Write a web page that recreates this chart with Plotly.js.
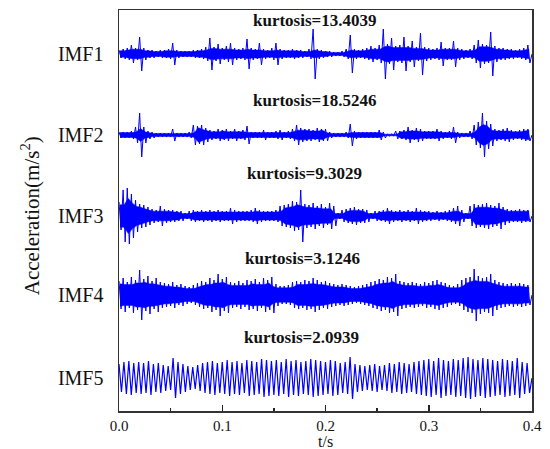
<!DOCTYPE html>
<html>
<head>
<meta charset="utf-8">
<script src="https://cdn.plot.ly/plotly-3.0.1.min.js"></script>
<style>html,body{margin:0;padding:0;background:#fff;}#chart{width:550px;height:449px;}</style>
</head>
<body>
<div id="chart"></div>
<script>
// IMF names and their kurtosis values
var imfNames = ["IMF1", "IMF2", "IMF3", "IMF4", "IMF5"];
var kurtosis = [13.4039, 18.5246, 9.3029, 3.1246, 2.0939];

// amplitude envelope readings (one swing each), along 0..0.4 s
var imf1Amp = [4,5,6,9,6,17,6,4,4,3,4,4,5,11,4,3,3,3,4,4,
               5,7,16,7,10,6,8,11,6,5,6,15,6,5,11,5,4,6,11,5,
               4,4,5,4,4,3,5,25,5,4,3,3,2,2,3,5,19,5,4,5,
               6,8,6,9,25,10,16,8,9,17,8,13,7,21,7,6,5,6,12,6,
               6,13,6,5,4,5,9,14,10,9,22,8,6,6,5,5,4,5,6,9];
var imf2Amp = [3,3,3,4,8,22,8,4,3,2,2,2,2,6,2,2,2,3,10,9,
               10,7,5,4,6,5,6,4,6,4,5,9,3,3,3,5,3,3,4,5,
               3,4,6,10,7,6,6,5,7,6,6,3,2,2,2,3,11,4,3,3,
               3,3,3,5,3,1,1,4,4,5,8,5,7,6,4,4,4,6,4,3,
               4,8,3,2,2,4,10,13,22,14,11,6,5,6,7,5,4,5,6,6];
var imf3Amp = [14,26,28,22,16,12,11,9,7,6,10,7,6,6,5,5,3,5,6,5,
               6,5,6,5,6,5,5,8,6,5,5,5,6,8,6,5,5,5,6,10,
               11,12,15,14,26,12,11,13,10,12,9,13,10,3,6,7,8,9,7,7,
               6,3,5,5,6,8,6,5,6,5,6,5,8,6,5,5,4,5,4,5,
               6,8,10,6,3,10,12,11,12,13,11,10,13,9,7,6,6,7,6,6];
var imf4Amp = [14,17,13,18,15,25,16,19,14,17,13,12,11,13,10,11,9,8,10,12,
               14,13,17,15,21,16,18,13,12,14,12,15,14,16,13,17,15,18,11,9,
               9,10,13,14,13,15,14,17,15,13,14,12,11,10,11,10,9,8,9,10,
               11,13,14,16,15,18,17,21,14,13,12,13,12,11,13,12,14,15,13,12,
               10,9,11,15,17,18,26,19,17,18,21,15,13,12,11,12,11,12,11,10];
var imf5Amp = [14,16,17,15,16,15,17,14,15,13,12,20,16,14,12,11,13,
               15,16,17,15,16,18,16,17,15,18,17,16,19,18,
               17,18,16,19,17,18,16,17,19,18,17,16,18,17,15,16,21,
               14,13,12,13,14,12,13,15,14,16,15,14,16,
               17,18,19,17,20,18,17,19,18,20,
               21,19,18,20,19,18,17,19,18,17,20,16,15];
var amps = [imf1Amp, imf2Amp, imf3Amp, imf4Amp, imf5Amp];

var tEnd = 0.4;
var xTickVals = [0, 0.1, 0.2, 0.3, 0.4];
var xTickText = ["0.0", "0.1", "0.2", "0.3", "0.4"];

// styling / placement (not data)
var offsets = [357, 276, 195, 116, 33];
var fillCore = [true, true, true, true, false];
var labelX = [0.19, 0.19, 0.18, 0.178, 0.177];
var labelY = [391, 311, 238, 153, 74];
var BLUE = "#0000ff";
var FONT = "Liberation Serif";

var traces = [];
var annotations = [];
for (var i = 0; i < amps.length; i++) {
  var a = amps[i], n = a.length, dt = tEnd / n, off = offsets[i];
  if (fillCore[i]) {
    // dense core of the strip: the envelope's local minimum, drawn as a filled band
    var px = [], py = [], lx = [], ly = [];
    for (var k = 0; k < n; k++) {
      var c = 0.8 * Math.min(a[Math.max(k - 1, 0)], a[k], a[Math.min(k + 1, n - 1)]);
      var tc = k * dt + dt / 4;
      px.push(tc); py.push(off + c);
      lx.unshift(tc); ly.unshift(off - c);
    }
    traces.push({x: px.concat(lx), y: py.concat(ly), type: "scatter", mode: "lines",
                 fill: "toself", fillcolor: BLUE, line: {color: BLUE, width: 0.5},
                 hoverinfo: "skip", showlegend: false});
  }
  var xs = [], ys = [];
  for (var k = 0; k < n; k++) {
    xs.push(k * dt);            ys.push(off + a[k]);
    xs.push(k * dt + dt / 2);   ys.push(off - a[k]);
  }
  xs.push(tEnd); ys.push(off);
  traces.push({x: xs, y: ys, type: "scatter", mode: "lines",
               line: {color: BLUE, width: fillCore[i] ? 1 : 1.2}, hoverinfo: "skip", showlegend: false});
  annotations.push({x: labelX[i], y: labelY[i], xref: "x", yref: "y",
                    text: "<b>kurtosis=" + kurtosis[i].toFixed(4) + "</b>",
                    showarrow: false, font: {family: FONT, size: 17, color: "#111"}});
}
// y-axis title placed as rotated text
annotations.push({x: -0.215, y: 195, xref: "paper", yref: "y", textangle: -90,
                  xanchor: "center", yanchor: "middle", showarrow: false,
                  text: "Acceleration(m/s<sup>2</sup>)", font: {family: FONT, size: 21, color: "#111"}});
// x-axis title
annotations.push({x: 0.5, y: -0.076, xref: "paper", yref: "paper",
                  xanchor: "center", yanchor: "middle", showarrow: false, borderpad: 0,
                  text: "t/s", font: {family: FONT, size: 16, color: "#111"}});

var layout = {
  width: 550, height: 449,
  margin: {l: 119, r: 18, t: 10, b: 38},
  paper_bgcolor: "#fff", plot_bgcolor: "#fff",
  font: {family: FONT, color: "#111"},
  showlegend: false,
  xaxis: {
    range: [0, tEnd], tickvals: xTickVals, ticktext: xTickText,
    ticks: "inside", ticklen: 6, tickwidth: 1.5, tickcolor: "#222",
    minor: {dtick: 0.05, ticks: "inside", ticklen: 3, tickwidth: 1.5, tickcolor: "#222", showgrid: false},
    showline: true, mirror: true, linecolor: "#333", linewidth: 1.5,
    showgrid: false, zeroline: false, automargin: false,
    tickfont: {family: FONT, size: 15, color: "#111"}
  },
  yaxis: {
    range: [0, 401], tickvals: offsets, ticktext: imfNames,
    ticks: "", ticklabelstandoff: 10,
    showline: true, mirror: true, linecolor: "#333", linewidth: 1.5,
    showgrid: false, zeroline: false, automargin: false,
    tickfont: {family: FONT, size: 20, color: "#111"}
  },
  annotations: annotations
};

Plotly.newPlot("chart", traces, layout, {staticPlot: true, displayModeBar: false});
</script>
</body>
</html>
